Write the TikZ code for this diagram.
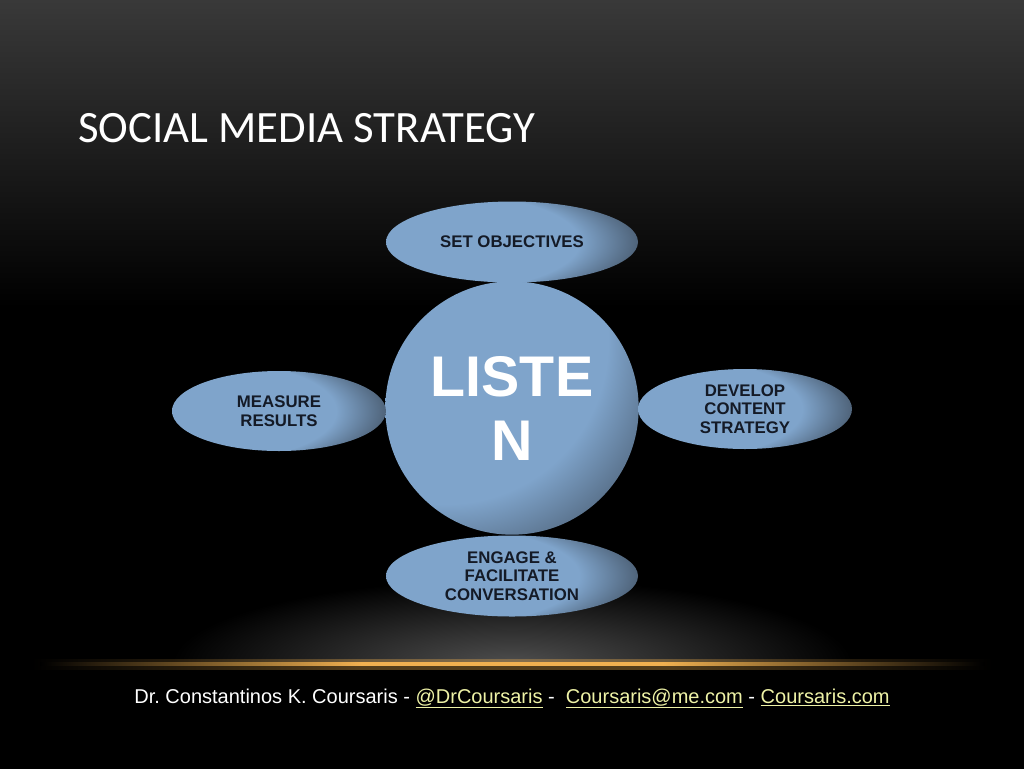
\documentclass[tikz,border=0pt]{standalone}
\usepackage{fontspec}
\setmainfont{Liberation Sans}
\newfontfamily\titlefont{Carlito}
\usetikzlibrary{shapes.geometric}
\definecolor{bA}{HTML}{7FA4CB}
\definecolor{bB}{HTML}{485A6E}
\definecolor{navy}{HTML}{141A26}
\definecolor{linkc}{HTML}{EEF2A6}
\definecolor{bgtop}{HTML}{393939}
\definecolor{glowc}{HTML}{F0B050}
\definecolor{haze}{HTML}{4E4E4E}
\pgfdeclareradialshading{ellsh}{\pgfpoint{-40bp}{0bp}}{color(0bp)=(bA); color(32bp)=(bA); color(40bp)=(bB); color(60bp)=(bB)}
\pgfdeclareradialshading{circsh}{\pgfpoint{-28bp}{28bp}}{color(0bp)=(bA); color(32bp)=(bA); color(40bp)=(bA!25!bB); color(60bp)=(bA!25!bB)}
\pgfdeclareverticalshading{bgsh}{100bp}{color(0bp)=(black); color(55bp)=(black); color(75bp)=(bgtop); color(100bp)=(bgtop)}
\pgfdeclarehorizontalshading{linesh}{100bp}{color(0bp)=(black); color(25bp)=(black); color(31bp)=(glowc!35!black); color(42bp)=(glowc); color(58bp)=(glowc); color(69bp)=(glowc!35!black); color(75bp)=(black); color(100bp)=(black)}
\pgfdeclareradialshading{hazesh}{\pgfpoint{0bp}{0bp}}{color(0bp)=(haze); color(9bp)=(haze!65!black); color(25bp)=(black); color(50bp)=(black)}
\tikzset{
  ell/.style={ellipse, inner sep=0pt, shade, shading=ellsh, text=navy, align=center,
    font=\bfseries\fontsize{12.6}{14}\selectfont},
  hub/.style={circle, inner sep=0pt, minimum size=190pt, shade, shading=circsh, text=white, align=center,
    font=\bfseries\fontsize{43}{48}\selectfont},
}
\newcommand{\ulink}[1]{\textcolor{linkc}{\underline{#1}}}
\frenchspacing
\begin{document}
\begin{tikzpicture}[x=0.75pt,y=-0.75pt]
\useasboundingbox (0,0) rectangle (1024,768);
\shade[shading=bgsh] (0,0) rectangle (1024,768);
\begin{scope}
  \clip (0,560) rectangle (1024,664);
  \shade[shading=hazesh] (512,664) ellipse [x radius=340, y radius=85];
\end{scope}
\shade[shading=linesh, opacity=0.35] (30,659) rectangle (994,669);
\shade[shading=linesh] (40,662.5) rectangle (984,665.5);
\node[anchor=base west, text=white, font=\titlefont\fontsize{33.6}{36}\selectfont, inner sep=0pt] (title) at (78,142) {SOCIAL MEDIA STRATEGY};
\node[hub] (listen) at (512,408) {LISTE\\N};
\node[ell, minimum width=189pt, minimum height=60.75pt] (obj) at (512,242) {SET OBJECTIVES};
\node[ell, minimum width=160.5pt, minimum height=60pt] (meas) at (279,411) {MEASURE\\RESULTS};
\node[ell, minimum width=160.5pt, minimum height=60pt] (dev) at (745,409) {DEVELOP\\CONTENT\\STRATEGY};
\node[ell, minimum width=189pt, minimum height=60.75pt] (eng) at (512,576) {ENGAGE \&\\FACILITATE\\CONVERSATION};
\node[anchor=base, text=white, font=\fontsize{15}{17}\selectfont, inner sep=0pt] (foot) at (512,703)
  {Dr. Constantinos K. Coursaris - \ulink{@DrCoursaris} -\ \ \ulink{Coursaris@me.com} - \ulink{Coursaris.com}};
\end{tikzpicture}
\end{document}
